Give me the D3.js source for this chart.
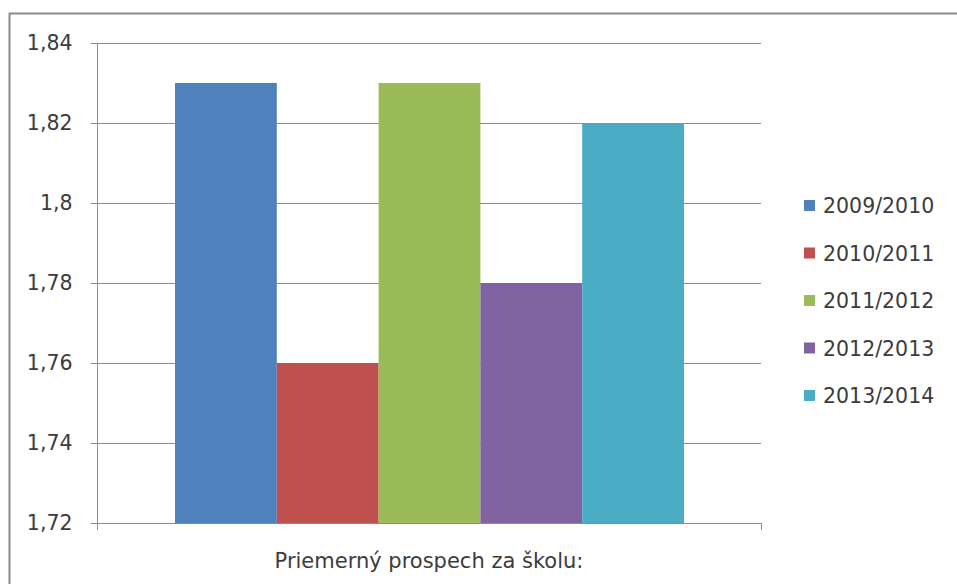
<!DOCTYPE html>
<meta charset="utf-8">
<script src="https://d3js.org/d3.v7.min.js"></script>
<style>
  body { margin: 0; background: #fff; }
  text { font-family: "DejaVu Sans", sans-serif; fill: #3c3c3c; }
</style>
<div id="chart"></div>
<script>
    // data
    const seasons = ["2009/2010", "2010/2011", "2011/2012", "2012/2013", "2013/2014"];
    const averages = [1.83, 1.76, 1.83, 1.78, 1.82];
    const colors = ["#4f81bd", "#c0504d", "#9bbb59", "#8064a2", "#4bacc6"];
    const yTicks = [1.72, 1.74, 1.76, 1.78, 1.80, 1.82, 1.84];
    const category = "Priemerný prospech za školu:";

    const W = 957, H = 584;
    const margin = { top: 43, left: 97, right: 196, bottom: 61 };

    const svg = d3.select("#chart").append("svg")
        .attr("width", W).attr("height", H);

    // outer chart border (right/bottom run off the picture)
    svg.append("rect")
        .attr("x", 9.5).attr("y", 13.5)
        .attr("width", W + 20).attr("height", H + 20)
        .attr("fill", "none").attr("stroke", "#8a8a8a").attr("stroke-width", 2);

    const y = d3.scaleLinear().domain([1.72, 1.84]).range([H - margin.bottom, margin.top]);
    const x = d3.scaleBand().domain(seasons).range([175, 684]);

    const g = svg.append("g");

    // gridlines
    g.selectAll("line.grid").data(yTicks).join("line")
        .attr("x1", margin.left).attr("x2", W - margin.right)
        .attr("y1", d => Math.round(y(d)) + 0.5).attr("y2", d => Math.round(y(d)) + 0.5)
        .attr("stroke", "#8c8c8c").attr("stroke-width", 1);

    // bars
    g.selectAll("rect.bar").data(averages).join("rect")
        .attr("x", (d, i) => x(seasons[i]))
        .attr("width", x.bandwidth())
        .attr("y", d => y(d))
        .attr("height", d => y(1.72) - y(d))
        .attr("fill", (d, i) => colors[i]);

    // y axis
    const fmt = d => d3.format(".2~f")(d).replace(".", ",");
    const yAxis = svg.append("g")
        .attr("transform", `translate(${margin.left + 0.5},0)`)
        .call(d3.axisLeft(y).tickValues(yTicks).tickFormat(fmt).tickSize(7).tickPadding(18));
    yAxis.select(".domain").attr("stroke", "#8c8c8c")
        .attr("d", `M0,${y(1.84)}V${y(1.72) + 7}`);
    yAxis.selectAll(".tick line").attr("stroke", "#8c8c8c");
    yAxis.selectAll(".tick text")
        .style("font-family", "DejaVu Sans").style("font-size", "20.5px").attr("fill", "#3c3c3c");

    // right end tick of x axis
    svg.append("line")
        .attr("x1", W - margin.right + 0.5).attr("x2", W - margin.right + 0.5)
        .attr("y1", y(1.72)).attr("y2", y(1.72) + 7)
        .attr("stroke", "#8c8c8c");

    // category label
    svg.append("text")
        .attr("x", (margin.left + W - margin.right) / 2)
        .attr("y", 568)
        .attr("text-anchor", "middle")
        .style("font-size", "21px")
        .text(category);

    // legend
    const legend = svg.append("g").selectAll("g").data(seasons).join("g")
        .attr("transform", (d, i) => `translate(804, ${206 + i * 47.5})`);
    legend.append("rect")
        .attr("x", 0).attr("y", -6).attr("width", 11).attr("height", 11)
        .attr("fill", (d, i) => colors[i]);
    legend.append("text")
        .attr("x", 19).attr("y", 7)
        .style("font-size", "20.5px")
        .text(d => d);
</script>
